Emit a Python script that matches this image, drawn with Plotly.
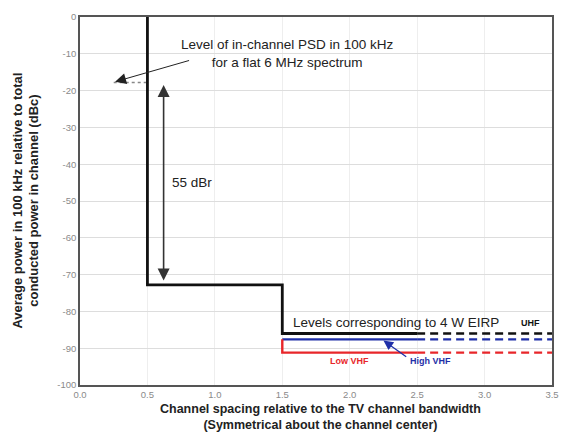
import plotly.graph_objects as go

# ---- data ----
x_ticks = [0.0, 0.5, 1.0, 1.5, 2.0, 2.5, 3.0, 3.5]
x_tick_labels = ["0.0", "0.5", "1.0", "1.5", "2.0", "2.5", "3.0", "3.5"]
y_ticks = [0, -10, -20, -30, -40, -50, -60, -70, -80, -90, -100]
y_tick_labels = ["0", "-10", "-20", "-30", "-40", "-50", "-60", "-70", "-80", "-90", "-100"]

mask_x = [0.5, 0.5, 1.5, 1.5, 2.5]
mask_y = [0, -72.8, -72.8, -86.0, -86.0]

level_names = ["UHF", "High VHF", "Low VHF"]
level_values = [-86.0, -87.6, -91.2]
level_colors = ["#111111", "#1f2fa8", "#e8262a"]
solid_x = [1.5, 2.5]
dash_x = [2.5, 3.5]

psd_x = [0.25, 0.5]
psd_level = -17.8
dbr_x = 0.62
dbr_top = -18.5
dbr_bottom = -72.0

font = "Liberation Sans, Arial, sans-serif"

fig = go.Figure()

# faint dotted in-channel PSD level
fig.add_trace(go.Scatter(x=psd_x, y=[psd_level, psd_level], mode="lines",
                         line=dict(color="#888888", width=1.3, dash="dot"),
                         hoverinfo="skip"))

# main mask
fig.add_trace(go.Scatter(x=mask_x, y=mask_y, mode="lines",
                         line=dict(color="#111111", width=2.8),
                         hoverinfo="skip"))

# 4 W EIRP levels
for name, val, col in zip(level_names, level_values, level_colors):
    if name == "Low VHF":
        xs = [solid_x[0], solid_x[0], solid_x[1]]
        ys = [level_values[1], val, val]
    else:
        xs = solid_x
        ys = [val, val]
    fig.add_trace(go.Scatter(x=xs, y=ys, mode="lines",
                             line=dict(color=col, width=2.4), name=name,
                             hoverinfo="skip"))
    fig.add_trace(go.Scatter(x=dash_x, y=[val, val], mode="lines",
                             line=dict(color=col, width=2.4, dash="8px,5px"),
                             hoverinfo="skip"))

annotations = [
    dict(x=1.54, y=-10.0, xref="x", yref="y", showarrow=False,
         text="Level of in-channel PSD in 100 kHz<br>for a flat 6 MHz spectrum",
         font=dict(family=font, size=13.5, color="#222222"), align="center"),
    dict(x=0.26, y=-17.6, ax=0.82, ay=-11.7, xref="x", yref="y",
         axref="x", ayref="y", showarrow=True, arrowhead=2, arrowsize=2.2,
         arrowwidth=1, arrowcolor="#222222", text=""),
    dict(x=dbr_x, y=dbr_top, ax=dbr_x, ay=dbr_bottom, xref="x", yref="y",
         axref="x", ayref="y", showarrow=True, arrowhead=2, arrowside="end+start",
         arrowsize=1.5, arrowwidth=1.6, arrowcolor="#333333", text="",
         startarrowhead=2, startarrowsize=1.5),
    dict(x=0.83, y=-45.1, xref="x", yref="y", showarrow=False, text="55 dBr",
         font=dict(family=font, size=13.5, color="#222222")),
    dict(x=2.34, y=-82.9, xref="x", yref="y", showarrow=False,
         text="Levels corresponding to 4 W EIRP",
         font=dict(family=font, size=13.5, color="#222222")),
    dict(x=3.34, y=-83.2, xref="x", yref="y", showarrow=False, text="<b>UHF</b>",
         font=dict(family=font, size=9, color="#111111")),
    dict(x=2.0, y=-93.6, xref="x", yref="y", showarrow=False, text="<b>Low VHF</b>",
         font=dict(family=font, size=9, color="#e8262a")),
    dict(x=2.6, y=-93.6, xref="x", yref="y", showarrow=False, text="<b>High VHF</b>",
         font=dict(family=font, size=9, color="#1f2fa8")),
    dict(x=2.25, y=-87.9, ax=2.43, ay=-92.6, xref="x", yref="y",
         axref="x", ayref="y", showarrow=True, arrowhead=2, arrowsize=1.5,
         arrowwidth=1.3, arrowcolor="#1f2fa8", text=""),
    # axis titles
    dict(x=-0.1153, y=0.5, xref="paper", yref="paper", showarrow=False,
         textangle=-90, xanchor="center", yanchor="middle", align="center",
         text="<b>Average power in 100 kHz relative to total<br>conducted power in channel (dBc)</b>",
         font=dict(family=font, size=13, color="#222222")),
    dict(x=0.509, y=-0.087, xref="paper", yref="paper", showarrow=False,
         xanchor="center", yanchor="middle", align="center",
         text="<b>Channel spacing relative to the TV channel bandwidth<br>(Symmetrical about the channel center)</b>",
         font=dict(family=font, size=12.5, color="#222222")),
]

fig.update_layout(
    width=561, height=446,
    margin=dict(l=80, r=9, t=17, b=61, autoexpand=False),
    paper_bgcolor="white", plot_bgcolor="white",
    showlegend=False,
    font=dict(family=font, size=9, color="#888888"),
    annotations=annotations,
)

fig.update_xaxes(range=[0, 3.5], tickvals=x_ticks, ticktext=x_tick_labels,
                 showgrid=True, gridcolor="#eeeeee", gridwidth=1,
                 showline=True, linecolor="#555555", linewidth=1.5, mirror=True,
                 zeroline=False, ticks="", automargin=False,
                 ticklabeloverflow="allow",
                 tickfont=dict(size=9.5, color="#8a8a8a"))
fig.update_yaxes(range=[-100, 0], tickvals=y_ticks, ticktext=y_tick_labels,
                 showgrid=True, gridcolor="#dddddd", gridwidth=1,
                 showline=True, linecolor="#555555", linewidth=1.5, mirror=True,
                 zeroline=False, ticks="", automargin=False,
                 tickfont=dict(size=9.5, color="#8a8a8a"))

fig.write_html("out.html", config={"displayModeBar": False},
               post_script="document.body.style.margin='0px';")
